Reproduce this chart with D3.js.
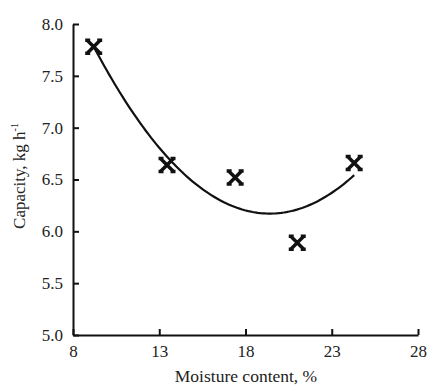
<!DOCTYPE html>
<html>
<head>
<meta charset="utf-8">
<script src="https://cdn.jsdelivr.net/npm/d3@7"></script>
<style>
  body { margin: 0; background: #fff; }
  svg { display: block; font-family: "Liberation Serif", "DejaVu Serif", serif; }
</style>
</head>
<body>
<div id="chart"></div>
<script>
// measured points
const moisture = [9.2, 13.45, 17.4, 21.0, 24.3];
const capacity = [7.78, 6.64, 6.52, 5.89, 6.66];
const xTicks = [8, 13, 18, 23, 28];
const yTicks = [5.0, 5.5, 6.0, 6.5, 7.0, 7.5, 8.0];

const W = 428, H = 385;
const margin = { top: 24, right: 10, bottom: 50, left: 73 };
const width = W - margin.left - margin.right;
const height = H - margin.top - margin.bottom;

const svg = d3.select('#chart').append('svg')
  .attr('width', W)
  .attr('height', H);

const g = svg.append('g')
  .attr('transform', `translate(${margin.left},${margin.top})`);

const x = d3.scaleLinear().domain([8, 28]).range([0, width]);
const y = d3.scaleLinear().domain([5, 8]).range([height, 0]);

// both axes have ticks pointing inward
const xAxis = g.append('g')
  .attr('transform', `translate(0,${height})`)
  .call(d3.axisBottom(x).tickValues(xTicks).tickSizeInner(-6).tickSizeOuter(0).tickPadding(10));

const yAxis = g.append('g')
  .call(d3.axisLeft(y).tickValues(yTicks).tickFormat(d3.format('.1f')).tickSizeInner(-6).tickSizeOuter(0).tickPadding(10));

[xAxis, yAxis].forEach(a => {
  a.select('.domain').attr('stroke', '#111').attr('stroke-width', 2);
  a.selectAll('.tick line').attr('stroke', '#111').attr('stroke-width', 2);
  a.selectAll('.tick text').attr('fill', '#222').attr('font-size', '17px')
    .attr('font-family', '"Liberation Serif", serif');
});

// quadratic least-squares trend through the points
function quadFit(xs, ys) {
  let S = [0, 0, 0, 0, 0], T = [0, 0, 0];
  xs.forEach((xv, i) => {
    for (let k = 0; k < 5; k++) S[k] += Math.pow(xv, k);
    for (let k = 0; k < 3; k++) T[k] += Math.pow(xv, k) * ys[i];
  });
  const A = [[S[0], S[1], S[2], T[0]], [S[1], S[2], S[3], T[1]], [S[2], S[3], S[4], T[2]]];
  for (let i = 0; i < 3; i++) {
    for (let j = i + 1; j < 3; j++) {
      const f = A[j][i] / A[i][i];
      for (let k = i; k < 4; k++) A[j][k] -= f * A[i][k];
    }
  }
  const c = [0, 0, 0];
  for (let i = 2; i >= 0; i--) {
    let s = A[i][3];
    for (let k = i + 1; k < 3; k++) s -= A[i][k] * c[k];
    c[i] = s / A[i][i];
  }
  return c;
}
const coef = quadFit(moisture, capacity);
const x0 = d3.min(moisture), x1 = d3.max(moisture);
const curve = d3.range(0, 101).map(i => {
  const xv = x0 + (x1 - x0) * i / 100;
  return [xv, coef[0] + coef[1] * xv + coef[2] * xv * xv];
});

g.append('path')
  .datum(curve)
  .attr('fill', 'none')
  .attr('stroke', '#111')
  .attr('stroke-width', 2.2)
  .attr('d', d3.line().x(d => x(d[0])).y(d => y(d[1])));

// markers: X with flat ends
const marker = 'M-6,-6L6,6M6,-6L-6,6M-8.5,-6.5H-3.5M3.5,-6.5H8.5M-8.5,6.5H-3.5M3.5,6.5H8.5';
g.selectAll('.pt')
  .data(moisture)
  .enter().append('path')
  .attr('class', 'pt')
  .attr('transform', (d, i) => `translate(${x(d)},${y(capacity[i])})`)
  .attr('d', marker)
  .attr('fill', 'none')
  .attr('stroke', '#111')
  .attr('stroke-width', 3.5);

// axis titles
svg.append('text')
  .attr('x', 246)
  .attr('y', 382)
  .attr('text-anchor', 'middle')
  .attr('font-size', '17.5px')
  .attr('fill', '#222')
  .text('Moisture content, %');

const yl = svg.append('text')
  .attr('transform', 'translate(25,176) rotate(-90)')
  .attr('text-anchor', 'middle')
  .attr('font-size', '17px')
  .attr('fill', '#222');
yl.append('tspan').text('Capacity, kg h');
yl.append('tspan').attr('dy', -7).attr('font-size', '10px').text('-1');
</script>
</body>
</html>
